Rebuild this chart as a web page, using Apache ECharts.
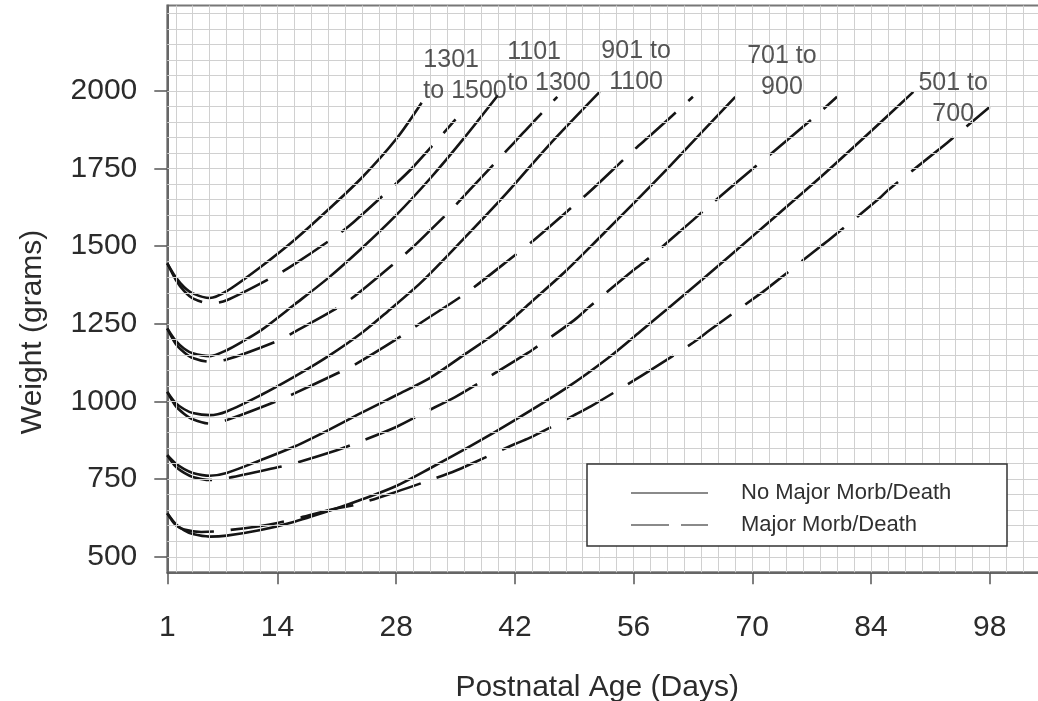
<!DOCTYPE html>
<html><head><meta charset="utf-8">
<script src="https://cdn.jsdelivr.net/npm/echarts@6.0.0/dist/echarts.min.js"></script>
<style>html,body{margin:0;padding:0;background:#fff}#c{width:1038px;height:701px}</style>
</head><body><div id="c"></div>
<script>
// ---------- tick labels ----------
const xTickLabels = [1, 14, 28, 42, 56, 70, 84, 98];
const yTickLabels = [500, 750, 1000, 1250, 1500, 1750, 2000];

// ---------- series names ----------
const NAME_SOLID = 'No Major Morb/Death';
const NAME_DASH = 'Major Morb/Death';

// ---------- birth weight groups (annotation text) ----------
const groupLabels = ['1301\nto 1500', '1101\nto 1300', '901 to\n1100', '701 to\n900', '501 to\n700'];
const groupLabelDay = [31.2, 41.1, 56.3, 73.5, 93.7];
const groupLabelWeight = [2049, 2074, 2078, 2063, 1976];
const groupLabelAlign = ['left', 'left', 'center', 'center', 'center'];

// ---------- 1301-1500 g ----------
const d1301Solid = [1, 2, 3, 4, 6, 8, 12, 16, 20, 24, 28, 31];
const w1301Solid = [1445, 1400, 1368, 1348, 1333, 1355, 1433, 1520, 1618, 1722, 1845, 1962];
const d1301Dash = [1, 2, 3, 4, 6, 8, 14, 16, 21, 23, 28, 30, 35];
const w1301Dash = [1445, 1392, 1355, 1332, 1316, 1326, 1409, 1442, 1535, 1578, 1702, 1755, 1908];

// ---------- 1101-1300 g ----------
const d1101Solid = [1, 2, 3, 4, 6, 8, 10, 12, 16, 20, 24, 28, 32, 36, 40];
const w1101Solid = [1235, 1195, 1170, 1155, 1146, 1165, 1195, 1228, 1312, 1398, 1495, 1600, 1718, 1848, 1986];
const d1101Dash = [1, 2, 3, 4, 6, 8, 14, 16, 21, 23, 28, 30, 32, 35, 37, 42, 44, 47];
const w1101Dash = [1235, 1185, 1158, 1140, 1128, 1135, 1195, 1224, 1300, 1337, 1450, 1498, 1551, 1632, 1691, 1836, 1895, 1981];

// ---------- 901-1100 g ----------
const d901Solid = [1, 2, 3, 4, 6, 8, 12, 16, 20, 24, 27, 31, 36, 41, 46, 52];
const w901Solid = [1031, 995, 975, 963, 956, 968, 1020, 1080, 1146, 1222, 1290, 1385, 1525, 1670, 1825, 1997];
const d901Dash = [1, 2, 3, 4, 6, 8, 14, 16, 21, 23, 28, 31, 35, 37, 42, 44, 49, 51, 56, 58, 63];
const w901Dash = [1031, 985, 960, 943, 929, 940, 1002, 1026, 1090, 1117, 1200, 1255, 1326, 1364, 1471, 1514, 1632, 1680, 1809, 1857, 1981];

// ---------- 701-900 g ----------
const d701Solid = [1, 2, 3, 4, 6, 8, 12, 16, 20, 24, 28, 32, 36, 40, 44, 48, 52, 56, 60, 64, 68];
const w701Solid = [827, 800, 782, 770, 761, 770, 811, 855, 908, 965, 1020, 1076, 1150, 1226, 1322, 1420, 1528, 1638, 1750, 1866, 1981];
const d701Dash = [1, 2, 3, 4, 6, 8, 14, 16, 21, 23, 28, 31, 35, 37, 42, 44, 49, 51, 56, 58, 63, 65, 71, 72, 78, 80];
const w701Dash = [827, 790, 770, 757, 747, 753, 788, 801, 843, 863, 918, 960, 1015, 1047, 1131, 1165, 1262, 1310, 1423, 1466, 1584, 1632, 1771, 1793, 1932, 1981];

// ---------- 501-700 g ----------
const d501Solid = [1, 2, 3, 4, 6, 8, 12, 16, 21, 24, 28, 32, 37, 42, 48, 53, 57, 64, 71, 78, 84, 89];
const w501Solid = [640, 605, 585, 573, 565, 568, 586, 613, 656, 685, 728, 785, 860, 940, 1042, 1140, 1230, 1390, 1555, 1721, 1870, 1997];
const d501Dash = [1, 2, 3, 5, 8, 14, 21, 23, 28, 32, 35, 37, 42, 44, 49, 51, 56, 58, 63, 65, 71, 72, 78, 79, 85, 86, 92, 93, 98];
const w501Dash = [640, 602, 588, 580, 585, 609, 656, 666, 709, 747, 777, 801, 863, 886, 956, 985, 1067, 1101, 1189, 1230, 1348, 1369, 1498, 1519, 1654, 1680, 1811, 1833, 1948];

const curves = [
  [NAME_SOLID, d1301Solid, w1301Solid], [NAME_DASH, d1301Dash, w1301Dash],
  [NAME_SOLID, d1101Solid, w1101Solid], [NAME_DASH, d1101Dash, w1101Dash],
  [NAME_SOLID, d901Solid, w901Solid], [NAME_DASH, d901Dash, w901Dash],
  [NAME_SOLID, d701Solid, w701Solid], [NAME_DASH, d701Dash, w701Dash],
  [NAME_SOLID, d501Solid, w501Solid], [NAME_DASH, d501Dash, w501Dash]
];

// ---------- styling ----------
const FONT = "'Liberation Sans', Arial, Helvetica, sans-serif";
const TEXT = '#2b2b2b';
const GRIDC = '#d0d0d0';

// grid lines (every 2 days, every 50 g)
const gridLines = [];
for (let d = 2; d <= 104; d += 2) gridLines.push({ xAxis: d });
for (let v = 500; v <= 2250; v += 50) gridLines.push({ yAxis: v });

const series = [{
  type: 'line', name: 'grid', data: [[1, 450]], showSymbol: false, symbol: 'none',
  lineStyle: { width: 0 }, silent: true, z: 1,
  markLine: {
    silent: true, symbol: ['none', 'none'], animation: false,
    label: { show: false },
    lineStyle: { color: GRIDC, width: 1, type: 'solid' },
    emphasis: { disabled: true },
    data: gridLines
  }
}];

curves.forEach(([name, days, ws]) => {
  series.push({
    type: 'line', name: name,
    data: days.map((d, i) => [d, ws[i]]),
    smooth: 0.3,
    symbol: 'none', showSymbol: false, silent: true, z: 3,
    itemStyle: { color: '#151515' },
    lineStyle: { color: '#151515', width: 2.6, type: name === NAME_SOLID ? 'solid' : [54, 17], cap: 'butt' }
  });
});

series.push({
  type: 'scatter', name: 'labels', symbolSize: 0, silent: true, z: 6,
  data: groupLabels.map((t, i) => ({
    name: t, value: [groupLabelDay[i], groupLabelWeight[i]],
    label: { align: groupLabelAlign[i] }
  })),
  label: {
    show: true, position: 'inside', formatter: '{b}',
    color: TEXT, fontSize: 25, lineHeight: 31, fontFamily: FONT, verticalAlign: 'middle'
  }
});

const chart = echarts.init(document.getElementById('c'), null, { renderer: 'canvas' });
chart.setOption({
  animation: false,
  backgroundColor: '#ffffff',
  grid: {
    left: 167.3, top: 5.5, right: -11, bottom: 128.7, show: true,
    borderColor: '#777', borderWidth: 2, containLabel: false, outerBoundsMode: 'none'
  },
  xAxis: {
    type: 'value', min: 1, max: 105,
    axisLine: { show: true, onZero: false, lineStyle: { color: '#666', width: 2 } },
    axisTick: { show: true, length: 12, customValues: xTickLabels, lineStyle: { color: '#555', width: 1.5 } },
    axisLabel: { customValues: xTickLabels, margin: 40, fontSize: 30, color: TEXT, fontFamily: FONT, formatter: v => String(v) },
    splitLine: { show: false },
    name: 'Postnatal Age (Days)', nameLocation: 'middle', nameGap: 100,
    nameTextStyle: { fontSize: 30, color: TEXT, fontFamily: FONT, padding: [0, 22, 0, 0] }
  },
  yAxis: {
    type: 'value', min: 450, max: 2275,
    axisLine: { show: true, onZero: false, lineStyle: { color: '#666', width: 2 } },
    axisTick: { show: true, length: 13, customValues: yTickLabels, lineStyle: { color: '#555', width: 1.5 } },
    axisLabel: { customValues: yTickLabels, margin: 30, fontSize: 30, color: TEXT, fontFamily: FONT, formatter: v => String(v) },
    splitLine: { show: false },
    name: 'Weight (grams)', nameLocation: 'middle', nameGap: 120,
    nameTextStyle: { fontSize: 30, color: TEXT, fontFamily: FONT, padding: [0, 86, 0, 0] }
  },
  legend: {
    orient: 'vertical', left: 625, top: 477, z: 10,
    itemWidth: 77, itemHeight: 14, itemGap: 10,
    selectedMode: false,
    itemStyle: { opacity: 0 },
    textStyle: { fontSize: 22, color: '#303030', fontFamily: FONT, padding: [4, 0, 0, 28] },
    lineStyle: { color: '#8a8a8a', width: 2 },
    data: [
      { name: NAME_SOLID, itemStyle: { opacity: 0 }, lineStyle: { color: '#8a8a8a', width: 2, type: 'solid' } },
      { name: NAME_DASH, itemStyle: { opacity: 0 }, lineStyle: { color: '#8a8a8a', width: 2, type: [38, 12] } }
    ]
  },
  graphic: [{
    type: 'rect', z: 8, silent: true,
    shape: { x: 587, y: 464, width: 420, height: 82 },
    style: { fill: '#ffffff', stroke: '#333', lineWidth: 1.5 }
  }],
  series: series
});
</script></body></html>
